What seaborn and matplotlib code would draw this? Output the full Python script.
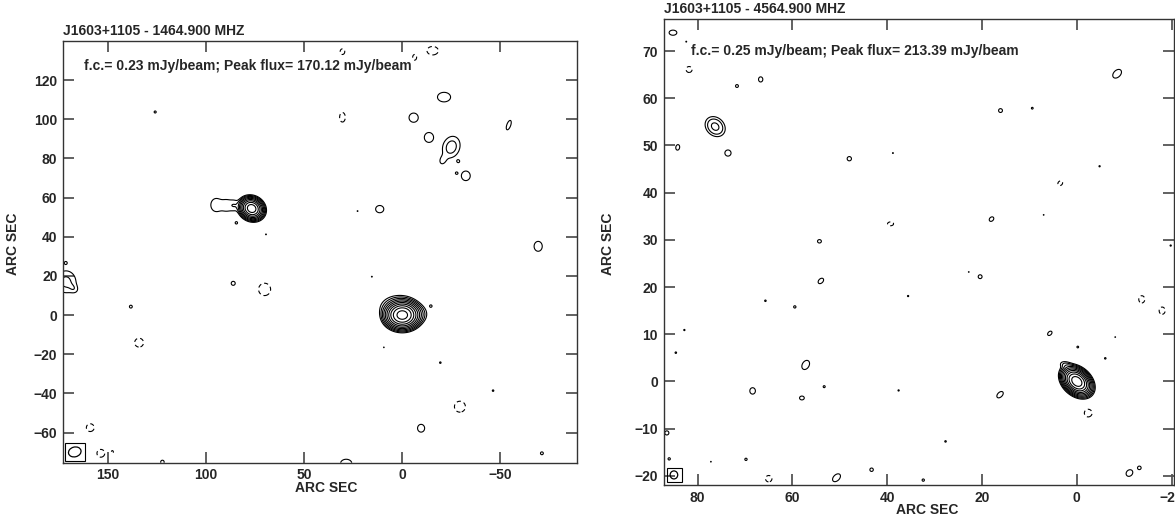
import numpy as np
import matplotlib
matplotlib.use("Agg")
import matplotlib.pyplot as plt
import seaborn as sns
from matplotlib.patches import Ellipse, Rectangle

# ---------------- Left map : 1464.9 MHz ----------------
L_title = "J1603+1105 - 1464.900 MHZ"
L_fc = 0.23            # first contour (mJy/beam)
L_peak = 170.12        # peak flux (mJy/beam)
L_xlim = (173.0, -89.1)
L_ylim = (-75.4, 139.8)
L_xticks = [150, 100, 50, 0, -50]
L_yticks = [-60, -40, -20, 0, 20, 40, 60, 80, 100, 120]
# emission components: RA offset, Dec offset (arcsec), amplitude (x f.c.), sigma maj/min (arcsec), angle (deg)
L_cx = [0.0, 2.0, -7.0, 76.8, 95.0, 89.5, 85.5, 84.6, 69.5, 22.8, 11.5,
        30.5, -15.5, -6.3, 126.0, 30.5, -21.3, -5.8, -13.6, -25.0, -20.5,
        -28.6, -27.6, -32.4, -54.3, -69.3, 171.5, 167.5, 171.6, 86.2, 70.2,
        138.4, 134.2, 15.5, -14.6, 9.4, -19.4, -46.3, -29.4, -9.6, 159.1,
        153.0, 153.7, 147.6, 146.0, 122.3, 28.6, -71.2]
L_cy = [0.0, 4.0, 0.5, 54.4, 56.2, 56.0, 56.0, 47.1, 41.2, 53.1, 54.1,
        134.5, 135.0, 131.6, 103.7, 101.0, 111.3, 100.8, 90.7, 85.8, 78.8,
        78.5, 72.5, 71.1, 97.0, 35.1, 17.0, 13.5, 26.7, 16.2, 13.1,
        4.3, -14.1, 19.6, 4.6, -16.5, -24.3, -38.6, -46.8, -57.8, -57.5,
        -56.5, -70.6, -69.7, -69.0, -75.0, -75.8, -70.6]
L_amp = [L_peak / L_fc, 6.0, 4.0, 420.0, 1.8, 1.7, 1.6, 1.2, 1.05, 1.05, 1.5,
         -1.5, -1.5, -1.5, 1.1, -1.5, 1.5, 1.5, 1.5, 2.8, 1.2,
         1.1, 1.05, 1.5, 1.5, 1.5, 2.4, 1.1, 1.1, 1.3, -1.5,
         1.2, -1.5, 1.05, 1.2, 1.05, 1.1, 1.1, -1.5, 1.5, -1.5,
         1.05, -1.5, -1.2, 1.1, 1.3, 1.5, 1.2]
L_smaj = [3.1, 4.5, 3.0, 2.25, 3.0, 2.6, 2.2, 1.0, 0.7, 0.7, 2.3,
          1.6, 3.2, 1.6, 1.2, 2.7, 3.7, 2.6, 2.8, 3.9, 2.0,
          1.0, 0.8, 2.7, 2.8, 2.8, 4.2, 1.8, 1.0, 1.4, 3.5,
          1.2, 2.5, 0.7, 0.9, 0.6, 0.9, 0.9, 3.1, 2.2, 2.2,
          0.6, 2.2, 1.0, 0.8, 1.2, 3.2, 1.2]
L_smin = [2.5, 3.0, 2.5, 1.95, 2.4, 2.2, 1.7, 1.0, 0.7, 0.7, 2.05,
          1.3, 2.4, 1.1, 1.2, 1.6, 2.7, 2.6, 2.6, 3.0, 1.5,
          1.0, 0.8, 2.5, 1.1, 2.3, 3.8, 1.4, 1.0, 1.4, 3.4,
          1.2, 2.5, 0.7, 0.9, 0.6, 0.9, 0.9, 3.1, 2.0, 2.2,
          0.6, 2.2, 1.0, 0.8, 1.2, 2.4, 1.2]
L_ang = [0, 0, 0, 30, 90, 90, 90, 0, 0, 0, 0,
         90, 0, 90, 0, 90, 0, 0, 90, 110, 110,
         0, 0, 90, 110, 90, 90, 45, 0, 0, 90,
         0, 0, 0, 0, 0, 0, 0, 0, 90, 0,
         0, 0, 0, 0, 0, 0, 0]
L_beam = dict(x=167.0, y=-69.9, w=6.5, h=5.0, ang=-15, box=(162.0, -74.3, 10.0, 8.8))
L_note = "f.c.= 0.23 mJy/beam; Peak flux= 170.12 mJy/beam"
L_note_xy = (162.5, 125.0)

# ---------------- Right map : 4564.9 MHz ----------------
R_title = "J1603+1105 - 4564.900 MHZ"
R_fc = 0.25
R_peak = 213.39
R_xlim = (87.2, -20.5)
R_ylim = (-22.0, 76.8)
R_xticks = [80, 60, 40, 20, 0, -20]
R_yticks = [-20, -10, 0, 10, 20, 30, 40, 50, 60, 70]
R_cx = [0.0, 2.2, 76.3, 85.2, 82.4, 81.8, 71.7, 66.7, 84.2, 73.6,
        48.0, 38.8, 16.1, 9.4, -8.5, -4.8, 3.5, 7.0, 18.0, 39.3,
        54.3, -19.8, 54.0, 65.7, 59.5, 35.6, 22.8, 20.4, -13.7, -18.0,
        5.7, -0.2, -6.0, -8.1, 82.8, 84.6, 57.2, 68.4, 58.0, 53.3,
        37.6, 16.2, -2.4, 86.5, 27.7, 86.0, 77.2, 69.8, 65.0, 50.7,
        43.3, 32.4, -11.1, -13.2]
R_cy = [0.0, 3.4, 54.0, 73.9, 72.0, 66.1, 62.6, 64.0, 49.6, 48.4,
        47.2, 48.4, 57.4, 57.9, 65.2, 45.6, 42.0, 35.3, 34.4, 33.4,
        29.7, 28.8, 21.3, 17.1, 15.8, 18.1, 23.2, 22.2, 17.4, 15.0,
        10.2, 7.3, 4.9, 9.4, 10.9, 6.1, 3.5, -2.0, -3.5, -1.1,
        -1.9, -2.8, -6.7, -10.9, -12.7, -16.4, -17.0, -16.5, -20.6, -20.4,
        -18.7, -20.9, -19.4, -18.3]
R_amp = [R_peak / R_fc, 2.5, 5.0, 1.5, 1.05, -1.5, 1.2, 1.5, 1.5, 1.5,
         1.5, 1.05, 1.5, 1.15, 1.5, 1.1, -1.5, 1.05, 1.5, -1.5,
         1.5, 1.1, 1.5, 1.15, 1.2, 1.1, 1.05, 1.5, -1.5, -1.5,
         1.5, 1.2, 1.15, 1.05, 1.1, 1.15, 1.5, 1.5, 1.5, 1.2,
         1.1, 1.5, -1.5, 1.3, 1.15, 1.2, 1.05, 1.2, -1.5, 1.5,
         1.5, 1.2, 1.5, 1.5]
R_smaj = [1.2, 0.9, 1.3, 0.9, 0.3, 0.7, 0.5, 0.6, 0.65, 0.72,
          0.5, 0.3, 0.45, 0.35, 1.2, 0.3, 0.6, 0.25, 0.6, 0.7,
          0.45, 0.3, 0.75, 0.3, 0.4, 0.3, 0.25, 0.45, 0.85, 0.85,
          0.6, 0.3, 0.3, 0.25, 0.3, 0.3, 1.15, 0.75, 0.55, 0.35,
          0.3, 0.9, 0.9, 0.6, 0.3, 0.4, 0.25, 0.4, 0.75, 1.1,
          0.4, 0.4, 0.85, 0.4]
R_smin = [0.85, 0.5, 1.05, 0.6, 0.3, 0.7, 0.5, 0.5, 0.45, 0.72,
          0.5, 0.3, 0.45, 0.35, 0.8, 0.3, 0.5, 0.25, 0.45, 0.45,
          0.4, 0.3, 0.5, 0.3, 0.4, 0.3, 0.25, 0.45, 0.7, 0.7,
          0.4, 0.3, 0.3, 0.25, 0.3, 0.3, 0.8, 0.65, 0.45, 0.35,
          0.3, 0.55, 0.9, 0.6, 0.3, 0.4, 0.25, 0.4, 0.75, 0.7,
          0.4, 0.4, 0.7, 0.4]
R_ang = [42, 20, 45, 0, 0, 0, 0, 90, 100, 0,
         0, 0, 0, 0, 135, 0, 135, 0, 135, 0,
         0, 0, 135, 0, 0, 0, 0, 0, 90, 90,
         135, 0, 0, 0, 0, 0, 120, 90, 0, 0,
         0, 135, 0, 0, 0, 0, 0, 0, 0, 135,
         0, 0, 135, 0]
R_beam = dict(x=85.0, y=-19.8, w=1.6, h=1.7, ang=0, box=(83.4, -21.3, 3.1, 3.0))
R_note = "f.c.= 0.25 mJy/beam; Peak flux= 213.39 mJy/beam"
R_note_xy = (81.5, 69.2)


def build_map(xlim, ylim, step, cx, cy, amp, smaj, smin, ang, fc):
    x = np.arange(min(xlim), max(xlim) + step, step)
    y = np.arange(min(ylim), max(ylim) + step, step)
    Z = np.zeros((len(y), len(x)))
    for x0, y0, a, sa, sb, th in zip(cx, cy, amp, smaj, smin, ang):
        r = 6 * max(sa, sb)
        i0, i1 = np.searchsorted(x, [x0 - r, x0 + r])
        j0, j1 = np.searchsorted(y, [y0 - r, y0 + r])
        if i1 <= i0 or j1 <= j0:
            continue
        X, Y = np.meshgrid(x[i0:i1], y[j0:j1])
        t = np.radians(th)
        dx, dy = X - x0, Y - y0
        u = dx * np.cos(t) + dy * np.sin(t)
        v = -dx * np.sin(t) + dy * np.cos(t)
        Z[j0:j1, i0:i1] += a * fc * np.exp(-0.5 * ((u / sa) ** 2 + (v / sb) ** 2))
    return x, y, Z


def levels_for(fc, peak):
    pos = [fc * 2 ** k for k in range(12) if fc * 2 ** k <= peak]
    return [-fc] + pos


sns.set_style("ticks")
plt.rcParams["font.family"] = ["Liberation Sans", "DejaVu Sans"]
plt.rcParams["font.weight"] = "bold"
plt.rcParams["axes.labelweight"] = "bold"
plt.rcParams["lines.scale_dashes"] = False
plt.rcParams["lines.dashed_pattern"] = [3.0, 2.2]

W, H = 1175, 523
fig = plt.figure(figsize=(W / 100, H / 100), dpi=100)
fig.patch.set_facecolor("white")

panels = [
    dict(rect=(63, 41.3, 577, 462.7), title=L_title, fc=L_fc, peak=L_peak, xlim=L_xlim, ylim=L_ylim,
         xt=L_xticks, yt=L_yticks, comp=(L_cx, L_cy, L_amp, L_smaj, L_smin, L_ang), step=0.2,
         beam=L_beam, note=L_note, note_xy=L_note_xy, xlab=0.513, ylabx=13),
    dict(rect=(663.5, 19.0, 1174, 485.3), title=R_title, fc=R_fc, peak=R_peak, xlim=R_xlim, ylim=R_ylim,
         xt=R_xticks, yt=R_yticks, comp=(R_cx, R_cy, R_amp, R_smaj, R_smin, R_ang), step=0.06,
         beam=R_beam, note=R_note, note_xy=R_note_xy, xlab=0.516, ylabx=608),
]

for p in panels:
    x0p, y0p, x1p, y1p = p["rect"]
    wpx, hpx = x1p - x0p, y1p - y0p
    ax = fig.add_axes([x0p / W, (H - y1p) / H, wpx / W, hpx / H])
    ax.set_facecolor("white")
    x, y, Z = build_map(p["xlim"], p["ylim"], p["step"], *p["comp"], p["fc"])
    lev = levels_for(p["fc"], p["peak"])
    ls = ["dashed"] + ["solid"] * (len(lev) - 1)
    ax.contour(x, y, Z, levels=lev, colors="black", linewidths=0.8, linestyles=ls)
    b = p["beam"]
    bx, by, bw, bh = b["box"]
    ax.add_patch(Rectangle((bx, by), bw, bh, fill=False, edgecolor="black", lw=0.8))
    ax.add_patch(Ellipse((b["x"], b["y"]), b["w"], b["h"], angle=b["ang"], fill=False,
                         edgecolor="black", lw=0.9))
    ax.set_xlim(*p["xlim"])
    ax.set_ylim(*p["ylim"])
    ax.set_xticks(p["xt"])
    ax.set_yticks(p["yt"])
    ax.tick_params(direction="in", length=8, width=1.3, color="#555555", top=True, right=True,
                   labelsize=10, pad=4)
    for s in ax.spines.values():
        s.set_color("#333333")
        s.set_linewidth(1.0)
    ax.set_xlabel("ARC SEC", fontsize=10, fontweight="bold")
    ax.set_ylabel("ARC SEC", fontsize=10, fontweight="bold")
    ax.xaxis.set_label_coords(p["xlab"], -25 / hpx)
    ax.xaxis.label.set_verticalalignment("center")
    ax.yaxis.set_label_coords((p["ylabx"] - x0p) / wpx, (y1p - 244) / hpx)
    ax.yaxis.label.set_verticalalignment("center")
    ax.text(0.0, 1 + 6 / hpx, p["title"], transform=ax.transAxes, ha="left", va="baseline",
            fontsize=10, fontweight="bold")
    ax.text(p["note_xy"][0], p["note_xy"][1], p["note"], ha="left", va="baseline",
            fontsize=10, fontweight="bold")

fig.savefig("out.png", dpi=100, facecolor="white")
